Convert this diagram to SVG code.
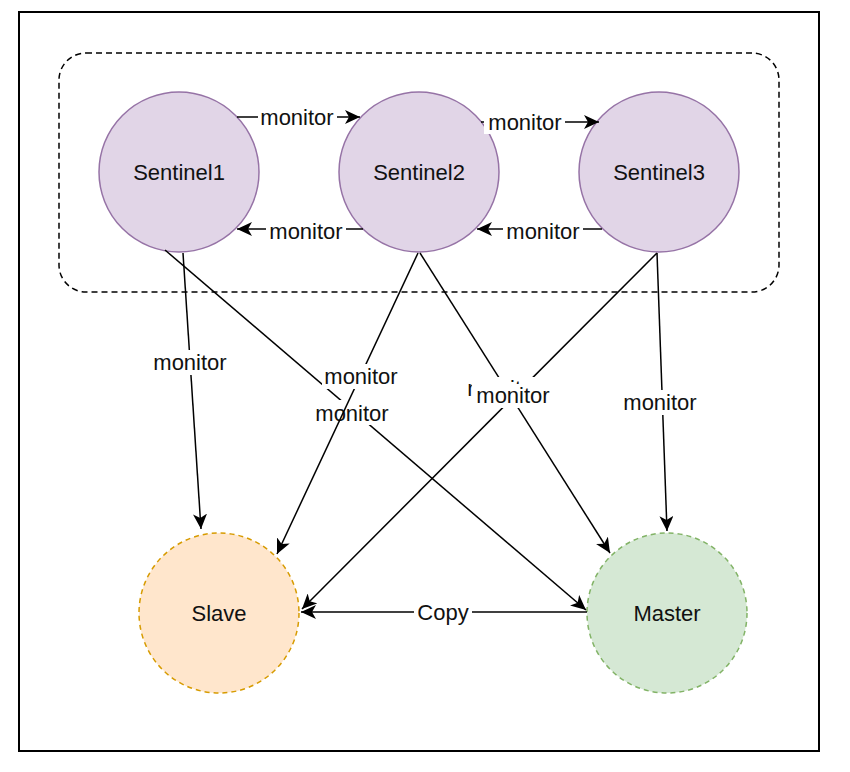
<svg xmlns="http://www.w3.org/2000/svg" width="850" height="772" viewBox="0 0 850 772">
<style>
.txt{font-family:"Liberation Sans",Arial,Helvetica,sans-serif;font-size:22px;fill:#111;text-anchor:middle}
.edge{stroke:#000;stroke-width:1.5;fill:none}
.arr{marker-end:url(#ah)}
.bg{fill:#fff;stroke:none}
.sent{fill:#e1d5e7;stroke:#9673a6;stroke-width:1.5}
</style>
<defs>
<marker id="ah" markerUnits="userSpaceOnUse" markerWidth="16" markerHeight="14" viewBox="0 0 16 14" refX="15" refY="7" orient="auto">
<path d="M0,0 L15,7 L0,14 L4,7 Z" fill="#000"/>
</marker>
</defs>
<rect x="0" y="0" width="850" height="772" fill="#fff"/>
<rect id="frame" x="19" y="12" width="800" height="739" fill="#fff" stroke="#000" stroke-width="2"/>
<g id="sentinel-group">
<rect x="59" y="53" width="720" height="239" rx="27" ry="27" fill="none" stroke="#000" stroke-width="1.5" stroke-dasharray="6 4"/>
</g>
<g id="sentinel1"><circle class="sent" cx="179" cy="172" r="80"/><text class="txt" x="179" y="180">Sentinel1</text></g>
<g id="sentinel2"><circle class="sent" cx="419" cy="172" r="80"/><text class="txt" x="419" y="180">Sentinel2</text></g>
<g id="sentinel3"><circle class="sent" cx="659" cy="172" r="80"/><text class="txt" x="659" y="180">Sentinel3</text></g>
<g id="slave"><circle cx="219" cy="613" r="80" fill="#ffe6cc" stroke="#d79b00" stroke-width="1.5" stroke-dasharray="5 4"/><text class="txt" x="219" y="621">Slave</text></g>
<g id="master"><circle cx="667" cy="613" r="80" fill="#d5e8d4" stroke="#82b366" stroke-width="1.5" stroke-dasharray="5 4"/><text class="txt" x="667" y="621">Master</text></g>
<g id="connectors">
<line class="edge arr" x1="237" y1="117" x2="360" y2="117"/>
<line class="edge arr" x1="481" y1="122" x2="599" y2="122"/>
<line class="edge arr" x1="363" y1="229" x2="237" y2="229"/>
<line class="edge arr" x1="602" y1="229" x2="477" y2="229"/>
<line class="edge arr" x1="183" y1="253" x2="201" y2="529"/>
<line class="edge arr" x1="165" y1="250" x2="586" y2="610"/>
<line class="edge arr" x1="420" y1="253" x2="610" y2="553"/>
<line class="edge arr" x1="657" y1="253" x2="302" y2="609"/>
<line class="edge arr" x1="657" y1="253" x2="667" y2="531"/>
<line class="edge arr" x1="587" y1="612" x2="301" y2="612"/>
<rect class="bg" x="314" y="400" width="78" height="25"/>
<text class="txt" x="352" y="421">monitor</text>
<line class="edge arr" x1="418" y1="253" x2="277" y2="554"/>
<rect class="bg" x="322" y="364" width="78" height="25"/>
<text class="txt" x="361" y="384">monitor</text>
<rect class="bg" x="464" y="377" width="81" height="24"/>
<text class="txt" x="504" y="396">monitor</text>
<rect class="bg" x="472" y="384" width="82" height="24"/>
<text class="txt" x="513" y="403">monitor</text>
<rect class="bg" x="258" y="105" width="79" height="24"/>
<text class="txt" x="297" y="125">monitor</text>
<rect class="bg" x="484" y="110" width="81" height="24"/>
<text class="txt" x="525" y="130">monitor</text>
<rect class="bg" x="266" y="220" width="80" height="24"/>
<text class="txt" x="306" y="239">monitor</text>
<rect class="bg" x="503" y="220" width="80" height="24"/>
<text class="txt" x="543" y="239">monitor</text>
<rect class="bg" x="150" y="350" width="80" height="25"/>
<text class="txt" x="190" y="370">monitor</text>
<rect class="bg" x="620" y="390" width="80" height="25"/>
<text class="txt" x="660" y="410">monitor</text>
<rect class="bg" x="414" y="600" width="58" height="25"/>
<text class="txt" x="443" y="620">Copy</text>
</g>
</svg>
